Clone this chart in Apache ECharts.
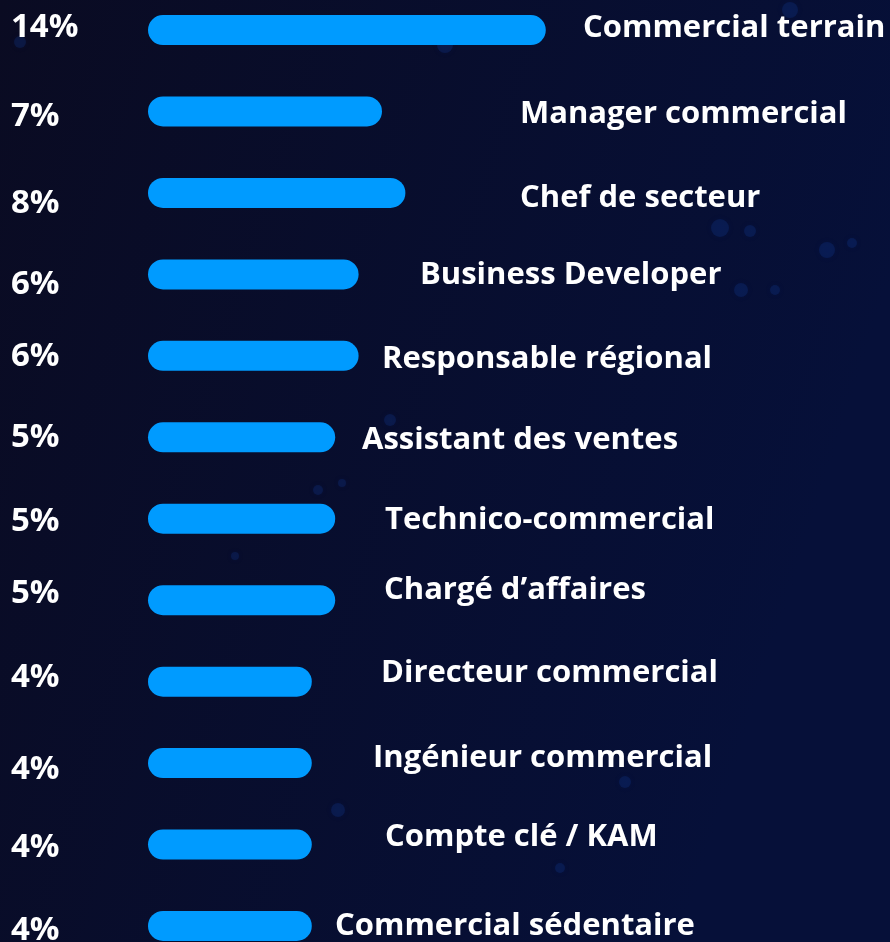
<!DOCTYPE html>
<html>
<head>
<meta charset="utf-8">
<script src="https://cdn.jsdelivr.net/npm/echarts@6/dist/echarts.min.js"></script>
<style>
  * { margin: 0; padding: 0; }
  body { background: #0a0c26; }
  #chart-container { width: 890px; height: 942px; }
</style>
</head>
<body>
<div id="chart-container"></div>
<script>
  // job titles, top to bottom
  var roles = [
    'Commercial terrain', 'Manager commercial', 'Chef de secteur', 'Business Developer',
    'Responsable régional', 'Assistant des ventes', 'Technico-commercial', 'Chargé d’affaires',
    'Directeur commercial', 'Ingénieur commercial', 'Compte clé / KAM', 'Commercial sédentaire'
  ]
  // share in percent
  var shares = [14, 7, 8, 6, 6, 5, 5, 5, 4, 4, 4, 4]

  // bars in the original start a little left of zero
  var barBase = -3

  // hand placed labels in the original (x of name start, vertical nudges)
  var nameX = [583, 520, 520, 420, 382, 362, 385, 384, 381, 373, 385, 335]
  var nameDy = [-2, 3, 5, 1, 3, 3, 1, -10, -8, -5, -7, 0]
  var pctDy = [-2, 5, 11, 10, 1, 0, 3, -7, -4, 7, 3, 5]

  // faint bokeh dots of the backdrop
  var dots = [
    [720, 228, 9], [750, 231, 6], [827, 250, 8], [852, 243, 5], [741, 290, 7], [775, 290, 5],
    [445, 45, 8], [20, 42, 6], [390, 420, 6], [318, 490, 5], [342, 483, 4], [235, 556, 4],
    [338, 810, 7], [625, 782, 6], [560, 868, 5], [790, 10, 8]
  ]

  var chartDom = document.getElementById('chart-container')
  var myChart = echarts.init(chartDom, null, { renderer: 'canvas' })

  function renderBar(params, api) {
    var i = params.dataIndex
    var v = api.value(1)
    var start = api.coord([barBase, api.value(0)])
    var end = api.coord([v, api.value(0)])
    var h = 30
    var txt = {
      fill: '#fff', fontFamily: 'Open Sans', fontWeight: 'bold',
      align: 'left', verticalAlign: 'middle'
    }
    return {
      type: 'group',
      children: [
        {
          type: 'rect',
          shape: { x: start[0], y: start[1] - h / 2, width: end[0] - start[0], height: h, r: h / 2 },
          style: { fill: '#009bff' }
        },
        {
          type: 'text',
          x: nameX[i], y: start[1] + nameDy[i],
          style: Object.assign({ text: roles[i], fontSize: 31 }, txt)
        },
        {
          type: 'text',
          x: 11, y: start[1] + pctDy[i],
          style: Object.assign({ text: v + '%', fontSize: 33 }, txt)
        }
      ]
    }
  }

  var option = {
    backgroundColor: {
      type: 'linear', x: 0, y: 0, x2: 1, y2: 0.3,
      colorStops: [
        { offset: 0, color: '#0a0b22' },
        { offset: 1, color: '#061039' }
      ]
    },
    animation: false,
    graphic: dots.map(function (d) {
      return {
        type: 'circle', z: -1, silent: true,
        shape: { cx: d[0], cy: d[1], r: d[2] },
        style: { fill: 'rgba(20,60,150,0.25)', shadowBlur: 6, shadowColor: 'rgba(20,60,150,0.3)' }
      }
    }),
    grid: { left: 148, right: 16.6, top: -10.7, bottom: -24.7, outerBoundsMode: 'none' },
    xAxis: { type: 'value', min: barBase, max: 28, show: false },
    yAxis: {
      type: 'category', inverse: true, data: roles, show: false
    },
    series: [
      {
        type: 'custom',
        renderItem: renderBar,
        encode: { x: 1, y: 0 },
        data: shares.map(function (v, i) { return [i, v] })
      }
    ]
  }
  myChart.setOption(option)
  window.addEventListener('resize', myChart.resize)
</script>
</body>
</html>
